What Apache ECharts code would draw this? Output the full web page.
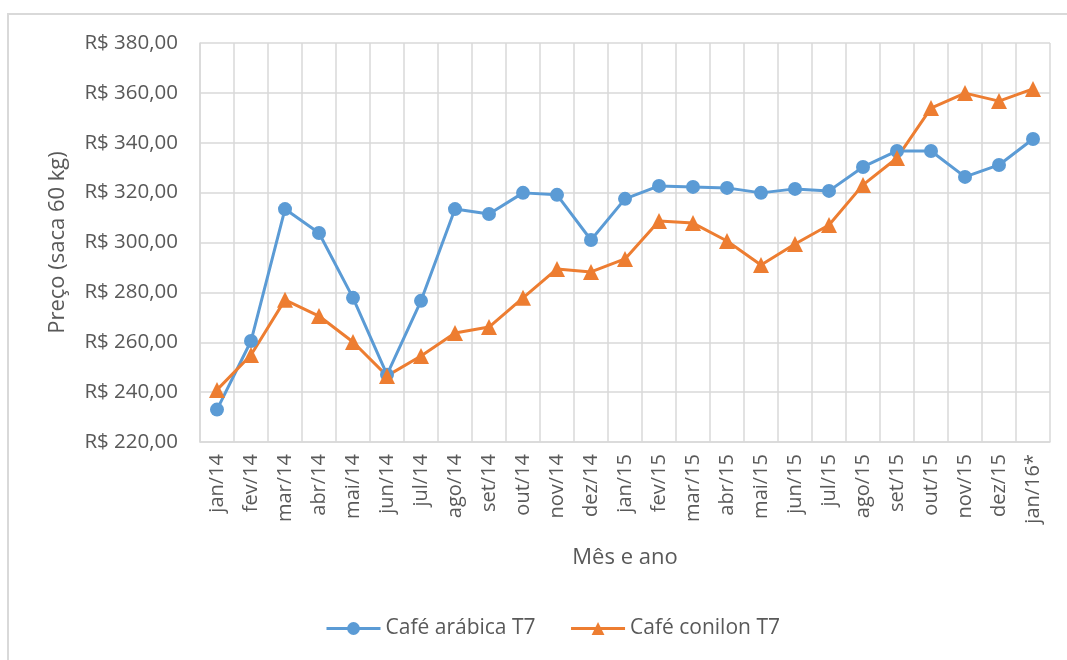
<!DOCTYPE html>
<html>
<head>
<meta charset="utf-8">
<script src="https://cdn.jsdelivr.net/npm/echarts@6/dist/echarts.min.js"></script>
<style>
	html, body { margin: 0; padding: 0; background: #fff; }
	#chart { width: 1067px; height: 660px; }
</style>
</head>
<body>
<div id="chart"></div>
<script>
// meses (eixo x)
var meses = ['jan/14','fev/14','mar/14','abr/14','mai/14','jun/14','jul/14','ago/14','set/14','out/14','nov/14','dez/14',
	'jan/15','fev/15','mar/15','abr/15','mai/15','jun/15','jul/15','ago/15','set/15','out/15','nov/15','dez/15','jan/16*'];
// preço do café arábica T7
var arabica = [233.0, 260.5, 313.4, 303.8, 277.8, 247.0, 276.6, 313.4, 311.4, 319.9, 319.1, 301.0,
	317.5, 322.7, 322.3, 321.9, 319.9, 321.5, 320.7, 330.3, 336.7, 336.7, 326.3, 331.1, 341.5];
// preço do café conilon T7
var conilon = [240.9, 254.9, 277.0, 270.5, 260.1, 246.5, 254.5, 263.7, 266.1, 277.8, 289.4, 288.2,
	293.4, 308.6, 307.8, 300.6, 291.0, 299.4, 307.0, 323.1, 333.9, 353.9, 359.9, 356.7, 361.6];
var yMin = 220, yMax = 380, yStep = 20;

var fonte = '"Open Sans", "Noto Sans", sans-serif';
var cinza = '#595959';

var myChart = echarts.init(document.getElementById('chart'));
var option = {
	textStyle: { fontFamily: fonte },
	animation: false,
	// moldura do gráfico
	graphic: [{
		type: 'rect',
		shape: { x: 8, y: 14, width: 1200, height: 800 },
		style: { fill: 'none', stroke: '#d9d9d9', lineWidth: 2 },
		silent: true
	}],
	legend: {
		bottom: 16,
		left: 320,
		itemWidth: 54,
		itemHeight: 16,
		itemGap: 34,
		lineStyle: { width: 3 },
		textStyle: { color: cinza, fontSize: 21, fontFamily: fonte },
		data: ['Café arábica T7', 'Café conilon T7']
	},
	grid: { left: 200, right: 17, top: 43, bottom: 218 },
	xAxis: {
		type: 'category',
		data: meses,
		boundaryGap: true,
		name: 'Mês e ano',
		nameLocation: 'middle',
		nameGap: 105,
		nameTextStyle: { color: cinza, fontSize: 22 },
		axisLine: { lineStyle: { color: '#d9d9d9', width: 1.5 } },
		axisTick: { show: false },
		axisLabel: { rotate: 90, color: cinza, fontSize: 20, margin: 12, interval: 0 },
		splitLine: { show: true, interval: 0, lineStyle: { color: '#d9d9d9', width: 1.5 } }
	},
	yAxis: {
		type: 'value',
		min: yMin,
		max: yMax,
		interval: yStep,
		name: 'Preço (saca 60 kg)',
		nameLocation: 'middle',
		nameGap: 131,
		nameTextStyle: { color: cinza, fontSize: 22 },
		axisLine: { show: true, lineStyle: { color: '#d9d9d9', width: 1.5 } },
		axisTick: { show: false },
		axisLabel: {
			color: cinza, fontSize: 20.5, margin: 22,
			formatter: function (v) { return 'R$ ' + v.toFixed(2).replace('.', ','); }
		},
		splitLine: { lineStyle: { color: '#d9d9d9', width: 1.5 } }
	},
	series: [{
		name: 'Café arábica T7',
		type: 'line',
		data: arabica,
		symbol: 'circle',
		symbolSize: 14,
		itemStyle: { color: '#5B9BD5' },
		lineStyle: { color: '#5B9BD5', width: 3 }
	}, {
		name: 'Café conilon T7',
		type: 'line',
		data: conilon,
		symbol: 'triangle',
		symbolSize: 16,
		itemStyle: { color: '#ED7D31' },
		lineStyle: { color: '#ED7D31', width: 3 }
	}]
};
myChart.setOption(option);
</script>
</body>
</html>
